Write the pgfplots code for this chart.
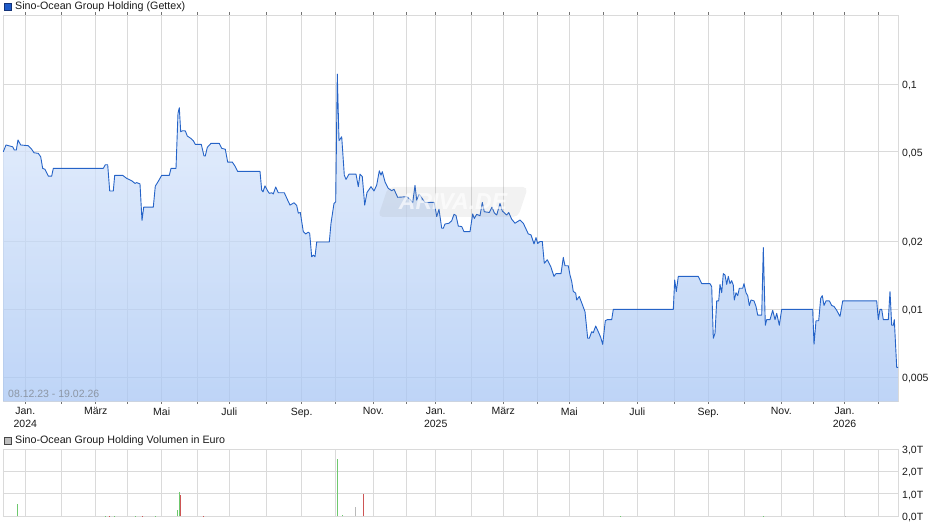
\documentclass[border=0pt]{standalone}
\usepackage{fontspec}
\setmainfont{Liberation Sans}
\usepackage{pgfplots}
\usepackage{pgfplotstable}
\pgfplotsset{compat=1.18}

\definecolor{linec}{RGB}{37,99,199}
\definecolor{filltop}{RGB}{224,235,251}
\definecolor{fillbot}{RGB}{168,198,244}
\definecolor{gridc}{RGB}{218,218,218}
\definecolor{volg}{RGB}{110,200,110}
\definecolor{volr}{RGB}{205,85,85}
\definecolor{volgr}{RGB}{185,185,185}
\definecolor{txt}{RGB}{25,25,25}

% x = trading-day position (chart pixels), y = price in EUR
\pgfplotstableread{
x y
3.3 0.0500
6 0.0536
12.7 0.0526
14.3 0.0509
16.3 0.0509
18 0.0564
20.7 0.0536
28.3 0.0532
31.7 0.0513
34 0.0495
38.3 0.0492
40.7 0.0475
42.7 0.0422
45 0.0418
48.3 0.0390
51.7 0.0390
53.3 0.0422
103.3 0.0422
105.3 0.0438
107.7 0.0438
109.7 0.0335
113.3 0.0335
114.7 0.0393
122.7 0.0393
126.7 0.0381
131.7 0.0372
135 0.0362
136.7 0.0365
140 0.0360
142 0.0248
143.7 0.0284
153.3 0.0284
155.3 0.0352
158 0.0368
161.7 0.0393
169.3 0.0393
171 0.0422
176 0.0422
178 0.0741
179.3 0.0784
180.7 0.0614
182.7 0.0620
185.3 0.0619
187.3 0.0587
190.7 0.0574
193.3 0.0560
195.3 0.0539
201.3 0.0539
204 0.0479
205.3 0.0479
207.3 0.0523
211 0.0545
219.3 0.0545
221.7 0.0518
225.3 0.0513
227.7 0.0450
232.3 0.0450
235 0.0432
237.7 0.0409
260 0.0409
261.7 0.0338
263 0.0332
265 0.0353
267.7 0.0335
269.3 0.0327
271.7 0.0329
273.3 0.0325
275.7 0.0349
278.3 0.0329
284.3 0.0329
287.7 0.0305
290 0.0290
294 0.0297
296.7 0.0289
298.3 0.0267
300.3 0.0269
303.3 0.0221
305.7 0.0216
308.3 0.0220
309.7 0.0217
311.7 0.0171
313.3 0.0174
315 0.0171
316.7 0.0199
329.3 0.0199
331 0.0241
334 0.0295
335.7 0.0300
337.3 0.1106
339 0.0560
341.7 0.0583
344.3 0.0394
346 0.0377
349 0.0398
356 0.0398
358.3 0.0350
360 0.0398
362.3 0.0388
364.7 0.0290
367 0.0330
371 0.0350
374 0.0335
376.7 0.0356
379.3 0.0412
381 0.0394
382.3 0.0408
385 0.0368
388.3 0.0344
391.7 0.0336
394 0.0341
397.7 0.0314
406.7 0.0316
410 0.0308
412.7 0.0297
415 0.0355
416.7 0.0305
419.3 0.0324
423.3 0.0305
425 0.0298
434.3 0.0298
436.7 0.0258
439 0.0278
441.7 0.0229
443.3 0.0229
445 0.0239
449 0.0241
451.7 0.0247
454 0.0264
456 0.0261
458.3 0.0234
461.7 0.0233
464 0.0221
470 0.0221
472.7 0.0265
474.3 0.0253
476.7 0.0264
480 0.0260
482.3 0.0298
484.3 0.0271
489.3 0.0269
492 0.0284
494.3 0.0268
496.7 0.0262
500 0.0295
502.3 0.0273
506.7 0.0262
508.7 0.0269
511.7 0.0251
515 0.0241
520 0.0249
523.3 0.0241
528.3 0.0216
531 0.0214
534 0.0195
536 0.0208
537.7 0.0196
540 0.0200
542.3 0.0200
544.3 0.0160
547.3 0.0166
550.7 0.0155
554 0.0140
556 0.0144
561 0.0144
563.3 0.0170
565 0.0156
568.3 0.0156
570 0.0142
571.7 0.0133
573.3 0.0120
575.7 0.0118
576.7 0.0110
579.3 0.0114
582.7 0.0104
585 0.00976
587.7 0.00744
589.3 0.00744
591.7 0.00796
593.3 0.00788
595.7 0.00843
598.3 0.00796
600.7 0.00751
602.7 0.00699
605.3 0.00890
607.3 0.0090
611.7 0.0090
613.3 0.0100
673.3 0.0100
674.7 0.0135
676.3 0.0120
678.3 0.0140
698.3 0.0140
701.7 0.0130
710 0.0130
711.7 0.0126
713.3 0.00744
715 0.00783
716.7 0.0109
718.7 0.0109
720 0.0129
721.7 0.01185
723.3 0.0144
725 0.0142
726.7 0.0129
728.3 0.0140
730 0.0130
731.7 0.0134
733.3 0.0128
734.3 0.0110
736 0.01185
737.7 0.0115
739.3 0.0124
742.7 0.0124
744 0.0130
746 0.01185
747.7 0.0115
749.3 0.0104
751 0.0110
754 0.0109
756 0.0103
757.7 0.00943
761.7 0.00943
763.3 0.0188
765.3 0.0085
766.7 0.0090
770 0.0090
772.7 0.0099
775 0.0090
776.7 0.0096
779.3 0.0085
781.7 0.0100
812.7 0.0100
814 0.0070
816 0.0089
818.7 0.0089
820.7 0.0112
822.3 0.0115
824 0.0104
826 0.0109
829.3 0.0109
831.7 0.0104
834 0.0103
836.7 0.0099
840 0.0093
842.7 0.0109
876.7 0.0109
878.3 0.0090
880 0.0100
881.7 0.0100
883.3 0.0090
888.3 0.0090
890 0.0120
891.7 0.0085
893.3 0.0085
894.3 0.0090
896.7 0.00553
898.3 0.00553
}\price

\def\monthticks{25.3,61.3,95.7,127.7,161.7,197.7,229.3,266.3,301.7,335.3,373.3,406.3,435.7,471.7,503.3,537.3,569.3,603.3,637.3,674.3,708.3,744.3,781.3,813.3,844.5,878.5}

\pgfplotsset{
  chartbase/.style={
    scale only axis, width=895pt,
    xmin=3, xmax=898,
    xtick/.expanded=\monthticks,
    yticklabel pos=right,
    grid=major,
    major grid style={gridc, line width=0.8pt},
    axis line style={gridc, line width=0.8pt},
    ytick style={draw=none},
    tick label style={font=\fontsize{10.5}{12.3}\selectfont, text=txt},
    yticklabel style={anchor=west, inner sep=0pt, xshift=4pt, yshift=-1.5pt},
  },
}

\begin{document}
\begin{tikzpicture}[x=1pt,y=1pt]
\useasboundingbox (0,0) rectangle (940,526);

% price panel
\begin{axis}[chartbase,
  at={(3pt,124.5pt)}, anchor=south west,
  height=386.5pt,
  ymode=log, ymin=0.0039, ymax=0.2022,
  log origin y=infty,
  ytick={0.005,0.01,0.02,0.05,0.1},
  yticklabels={{0,005},{0,01},{0,02},{0,05},{0,1}},
  xticklabels={{Jan.\\2024},,März,,Mai,,Juli,,Sep.,,Nov.,,{Jan.\\2025},,März,,Mai,,Juli,,Sep.,,Nov.,,{Jan.\\2026},},
  xtick align=outside, major tick length=2.5pt,
  xtick style={black!55, line width=0.6pt},
  xticklabel style={align=center, anchor=north, inner sep=0pt, yshift=-3.5pt},
]
\addplot[draw=none, top color=filltop, bottom color=fillbot, fill opacity=0.75] table {\price} \closedcycle;
\addplot[linec, line width=0.9pt, line join=round] table {\price};
\end{axis}

% volume panel
\begin{axis}[chartbase,
  at={(3pt,9.7pt)}, anchor=south west,
  height=67.3pt,
  ymin=0, ymax=3,
  ytick={0,1,2,3},
  yticklabels={{0,0T},{1,0T},{2,0T},{3,0T}},
  xticklabel=\empty,
  xtick style={draw=none},
]
\addplot[ycomb, volg, line width=1pt, mark=none] coordinates {
(17.3,0.55) (105,0.03) (114,0.03) (135,0.03) (155,0.03) (177.3,0.28) (179.3,1.08)
(337.3,2.55) (342.3,0.04) (620.7,0.02) (763.3,0.02)};
\addplot[ycomb, volr, line width=1pt, mark=none] coordinates {
(109,0.03) (142,0.03) (180.3,0.95) (203.3,0.03) (363,0.99)};
\addplot[ycomb, volgr, line width=1pt, mark=none] coordinates {
(355.3,0.41) (845,0.02)};
\end{axis}

% headers
\filldraw[fill={rgb,255:red,30;green,90;blue,200}, draw={rgb,255:red,20;green,50;blue,120}, line width=0.6pt] (4.5,516) rectangle (11,522.5);
\node[anchor=base west, inner sep=0pt, text=txt, font=\fontsize{10.7}{12}\selectfont] at (15,516) {Sino-Ocean Group Holding (Gettex)};
\filldraw[fill={rgb,255:red,190;green,190;blue,190}, draw={rgb,255:red,70;green,70;blue,70}, line width=0.6pt] (4.5,82) rectangle (11,88.5);
\node[anchor=base west, inner sep=0pt, text=txt, font=\fontsize{10.7}{12}\selectfont] at (15,82) {Sino-Ocean Group Holding Volumen in Euro};

% date range
\node[anchor=base west, inner sep=0pt, text={rgb,255:red,140;green,150;blue,165}, font=\fontsize{10.5}{12}\selectfont] at (8,128.7) {08.12.23 - 19.02.26};

% watermark
\fill[gray, opacity=0.10, rounded corners=5pt] (388,339) -- (528,339) -- (518,309) -- (378,309) -- cycle;
\node[text=white, opacity=0.65, font=\fontsize{23}{24}\selectfont\bfseries\itshape] at (453,324) {ARIVA.DE};
\end{tikzpicture}
\end{document}
